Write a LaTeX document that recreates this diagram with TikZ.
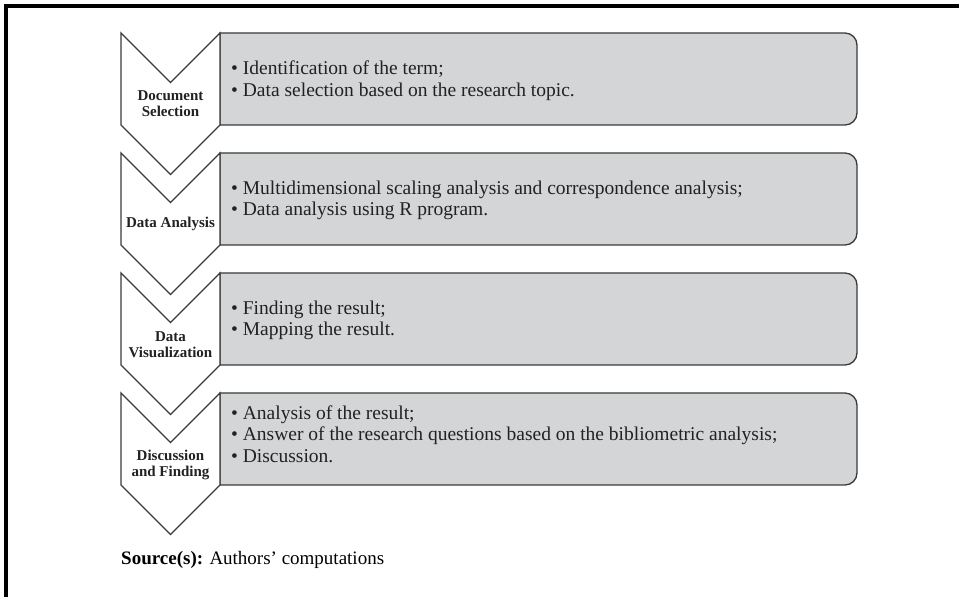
\documentclass[tikz,border=0pt]{standalone}
\usepackage{fontspec}
\setmainfont{Liberation Serif}
\usepackage{tikz}
\usetikzlibrary{positioning}
\usepackage{xcolor}
\definecolor{stepline}{HTML}{3A3A3A}
\definecolor{stepfill}{HTML}{D4D5D7}
\definecolor{steptext}{HTML}{222222}

\begin{document}
\begin{tikzpicture}[x=1pt,y=1pt,
  chevron/.style={draw=stepline,line width=1.3pt,fill=white,line join=miter},
  itembox/.style={draw=stepline,line width=1.3pt,fill=stepfill},
  steplabel/.style={font=\fontsize{15}{16}\selectfont\bfseries,text=steptext,align=center,inner sep=0pt},
  items/.style={font=\fontsize{19.5}{21.5}\selectfont,text=steptext,align=left,anchor=west,inner sep=0pt}]
\useasboundingbox (0,0) rectangle (959,597);
\draw[line width=4pt] (6,0) -- (6,591) -- (959,591);
% step 1
\draw[itembox] (220,564) -- (845,564) arc[start angle=90,end angle=0,radius=12] -- (857,484) arc[start angle=0,end angle=-90,radius=12] -- (220,472) -- cycle;
\draw[chevron] (121,564) -- (170.5,514.5) -- (220,564) -- (220,472) -- (170.5,422.5) -- (121,472) -- cycle;
\node[steplabel] (docsel) at (170.5,493) {Document\\Selection};
\node[items] (docitems) at (231,516.5) {\textbullet\ Identification of the term;\\\textbullet\ Data selection based on the research topic.};
% step 2
\draw[itembox] (220,444) -- (845,444) arc[start angle=90,end angle=0,radius=12] -- (857,364) arc[start angle=0,end angle=-90,radius=12] -- (220,352) -- cycle;
\draw[chevron] (121,444) -- (170.5,394.5) -- (220,444) -- (220,352) -- (170.5,302.5) -- (121,352) -- cycle;
\node[steplabel] (dataana) at (170.5,373) {Data Analysis};
\node[items] (anaitems) at (231,396.5) {\textbullet\ Multidimensional scaling analysis and correspondence analysis;\\\textbullet\ Data analysis using R program.};
% step 3
\draw[itembox] (220,324) -- (845,324) arc[start angle=90,end angle=0,radius=12] -- (857,244) arc[start angle=0,end angle=-90,radius=12] -- (220,232) -- cycle;
\draw[chevron] (121,324) -- (170.5,274.5) -- (220,324) -- (220,232) -- (170.5,182.5) -- (121,232) -- cycle;
\node[steplabel] (datavis) at (170.5,252) {Data\\Visualization};
\node[items] (visitems) at (231,276.5) {\textbullet\ Finding the result;\\\textbullet\ Mapping the result.};
% step 4
\draw[itembox] (220,204) -- (845,204) arc[start angle=90,end angle=0,radius=12] -- (857,124) arc[start angle=0,end angle=-90,radius=12] -- (220,112) -- cycle;
\draw[chevron] (121,204) -- (170.5,154.5) -- (220,204) -- (220,112) -- (170.5,62.5) -- (121,112) -- cycle;
\node[steplabel] (discfind) at (170.5,132.5) {Discussion\\and Finding};
\node[items] (discitems) at (231,163) {\textbullet\ Analysis of the result;\\\textbullet\ Answer of the research questions based on the bibliometric analysis;\\\textbullet\ Discussion.};
% source line
\node[font=\fontsize{19}{21}\selectfont,anchor=west,inner sep=0pt] (src) at (121,37) {\textbf{Source(s):} Authors’ computations};
\end{tikzpicture}
\end{document}
